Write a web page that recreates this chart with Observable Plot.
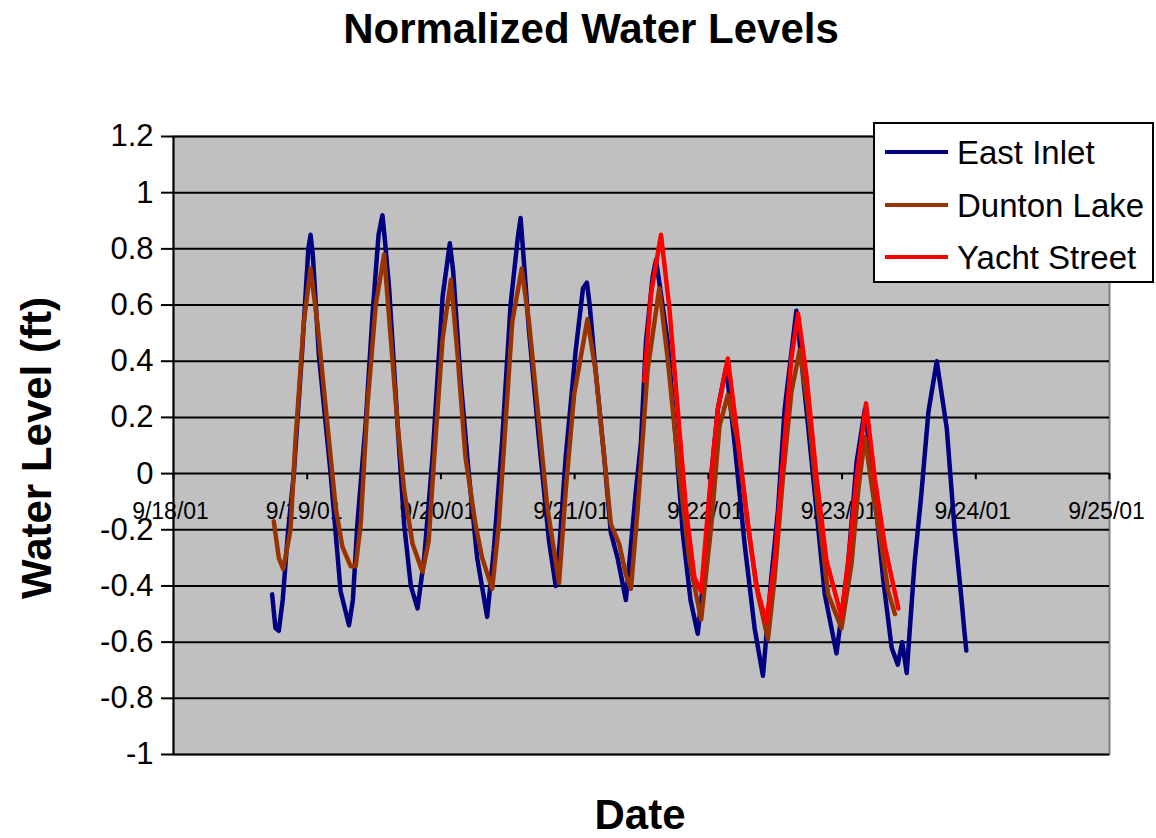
<!DOCTYPE html>
<html><head><meta charset="utf-8">
<script src="https://cdn.jsdelivr.net/npm/d3@7"></script>
<script src="https://cdn.jsdelivr.net/npm/@observablehq/plot@0.6"></script>
<style>
body{margin:0;background:#fff;font-family:"Liberation Sans",Arial,sans-serif;}
#wrap{position:relative;width:1156px;height:838px;overflow:hidden;}
#chart{position:absolute;left:0;top:0;}
.lbl{position:absolute;font-weight:bold;font-size:42px;line-height:42px;white-space:nowrap;color:#000;}
#title{left:591px;top:8px;transform:translateX(-50%);}
#xlab{left:640px;top:794px;transform:translateX(-50%);}
#ylab{left:37px;top:448px;transform:translate(-50%,-50%) rotate(-90deg);}
#legend{position:absolute;left:873px;top:122px;width:277px;height:157px;background:#fff;border:2px solid #000;}
.key{position:absolute;left:10px;width:63px;height:4px;}
.ktxt{position:absolute;left:82px;font-size:33px;line-height:33px;white-space:nowrap;color:#000;}
</style></head>
<body>
<div id="wrap">
<div id="chart"></div>
<div class="lbl" id="title"></div>
<div class="lbl" id="xlab"></div>
<div class="lbl" id="ylab"></div>
<div id="legend"></div>
</div>
<script>
// Hours after 9/18/01 00:00, water level (ft)
const eastInlet = [[17.7,-0.43],[18.3,-0.55],[18.9,-0.56],[19.6,-0.45],[20.5,-0.22],[21.6,0.0],[23.1,0.44],[24.2,0.80],[24.6,0.85],[25.0,0.78],[26.1,0.42],[28.2,0.0],[30.0,-0.42],[31.5,-0.54],[32.2,-0.45],[33.0,-0.18],[34.5,0.18],[35.7,0.56],[36.8,0.85],[37.5,0.92],[38.0,0.82],[38.7,0.66],[40.2,0.18],[41.4,-0.18],[42.6,-0.40],[43.8,-0.48],[45.0,-0.30],[46.5,0.06],[48.3,0.63],[49.6,0.82],[50.2,0.72],[51.5,0.34],[53.0,0.0],[54.5,-0.30],[56.3,-0.51],[57.5,-0.27],[59.0,0.12],[60.5,0.60],[61.8,0.84],[62.3,0.91],[62.8,0.78],[63.8,0.51],[65.6,0.12],[67.4,-0.24],[68.6,-0.40],[69.3,-0.25],[70.4,0.06],[72.2,0.44],[73.5,0.66],[74.2,0.68],[74.7,0.60],[75.5,0.42],[77.3,0.06],[78.5,-0.21],[79.7,-0.30],[81.2,-0.45],[83.0,-0.06],[83.9,0.11],[84.8,0.47],[86.0,0.70],[86.6,0.76],[87.2,0.68],[88.7,0.47],[90.2,0.11],[91.4,-0.21],[92.8,-0.45],[94.1,-0.57],[95.0,-0.40],[96.5,-0.01],[97.7,0.23],[99.2,0.38],[100.7,0.11],[102.5,-0.25],[104.3,-0.55],[105.8,-0.72],[107.3,-0.37],[108.5,-0.13],[109.7,0.23],[111.8,0.58],[113.6,0.23],[115.4,-0.13],[116.9,-0.43],[119.0,-0.64],[121.1,-0.32],[122.6,0.04],[124.1,0.23],[125.9,-0.08],[127.4,-0.38],[128.9,-0.62],[130.0,-0.68],[130.8,-0.60],[131.6,-0.71],[133.0,-0.32],[134.2,-0.08],[135.5,0.22],[137.0,0.40],[138.8,0.16],[140.2,-0.20],[141.4,-0.44],[141.9,-0.55],[142.3,-0.63]];
const duntonLake = [[18.0,-0.17],[18.9,-0.30],[19.7,-0.34],[21.0,-0.20],[21.9,0.12],[23.4,0.54],[24.6,0.73],[25.8,0.54],[27.6,0.18],[29.1,-0.12],[30.3,-0.26],[31.8,-0.33],[32.7,-0.33],[33.6,-0.18],[34.8,0.24],[36.3,0.60],[37.8,0.78],[39.0,0.48],[40.2,0.18],[41.4,-0.06],[42.9,-0.25],[44.7,-0.35],[45.8,-0.24],[46.8,0.06],[48.3,0.48],[49.8,0.69],[51.0,0.42],[52.4,0.06],[54.2,-0.18],[55.4,-0.30],[57.2,-0.41],[58.4,-0.18],[59.6,0.18],[60.8,0.54],[62.5,0.73],[63.8,0.54],[65.6,0.18],[67.1,-0.12],[69.2,-0.39],[70.4,-0.06],[71.9,0.28],[74.3,0.55],[75.8,0.36],[77.3,0.06],[78.5,-0.18],[80.0,-0.25],[81.2,-0.36],[82.1,-0.41],[83.3,-0.13],[85.1,0.37],[87.2,0.66],[88.7,0.41],[90.5,0.05],[92.6,-0.31],[94.7,-0.52],[96.5,-0.19],[98.0,0.17],[99.5,0.28],[101.3,0.11],[103.1,-0.19],[104.9,-0.43],[106.7,-0.59],[107.9,-0.37],[109.4,-0.01],[110.9,0.29],[112.4,0.44],[113.9,0.23],[115.7,-0.13],[117.5,-0.43],[119.9,-0.55],[121.7,-0.32],[122.9,-0.06],[124.1,0.13],[125.6,-0.08],[127.1,-0.26],[128.3,-0.42],[129.5,-0.50]];
const yachtStreet = [[84.5,0.33],[85.7,0.64],[87.5,0.85],[89.0,0.59],[90.5,0.23],[92.0,-0.13],[93.5,-0.37],[94.7,-0.42],[96.2,-0.07],[97.7,0.23],[99.5,0.41],[101.0,0.17],[102.8,-0.13],[104.6,-0.40],[106.4,-0.53],[107.9,-0.31],[109.4,0.05],[110.9,0.41],[112.1,0.57],[113.6,0.35],[115.4,-0.01],[117.2,-0.31],[119.9,-0.51],[121.4,-0.26],[122.6,-0.02],[124.3,0.25],[125.9,-0.02],[127.7,-0.26],[130.1,-0.48]];

const seriesNames = ["East Inlet", "Dunton Lake", "Yacht Street"];
const seriesColors = ["#000080", "#993300", "#ff0000"];
const yTicks = [-1, -0.8, -0.6, -0.4, -0.2, 0, 0.2, 0.4, 0.6, 0.8, 1, 1.2];
const yTickLabels = ["-1", "-0.8", "-0.6", "-0.4", "-0.2", "0", "0.2", "0.4", "0.6", "0.8", "1", "1.2"];
const xTickDays = [18, 19, 20, 21, 22, 23, 24, 25];
const xTickLabels = ["9/18/01", "9/19/01", "9/20/01", "9/21/01", "9/22/01", "9/23/01", "9/24/01", "9/25/01"];
const titleText = "Normalized Water Levels";
const xTitle = "Date";
const yTitle = "Water Level (ft)";

const base = Date.UTC(2001, 8, 18);
const toDate = h => new Date(base + h * 3600000);
const dayDate = d => new Date(Date.UTC(2001, 8, d));
const rows = (arr, name) => arr.map(([h, v]) => ({t: toDate(h), v, name}));
const all = [rows(eastInlet, seriesNames[0]), rows(duntonLake, seriesNames[1]), rows(yachtStreet, seriesNames[2])];
const xTicks = xTickDays.map(dayDate);

const chart = Plot.plot({
  width: 1156, height: 838,
  marginLeft: 173, marginRight: 47, marginTop: 136, marginBottom: 84,
  style: {background: "transparent", fontFamily: "'Liberation Sans', Arial, sans-serif", color: "#000"},
  x: {type: "utc", domain: [xTicks[0], xTicks[xTicks.length - 1]], axis: null},
  y: {domain: [-1, 1.2], axis: null},
  marks: [
    Plot.frame({fill: "#c0c0c0", stroke: "#808080", strokeWidth: 2}),
    Plot.ruleY(yTicks, {stroke: "#000", strokeWidth: 2}),
    Plot.ruleX([xTicks[0]], {stroke: "#000", strokeWidth: 2}),
    Plot.axisY({ticks: yTicks, label: null, tickFormat: d => yTickLabels[yTicks.indexOf(d)], tickSize: 12, tickPadding: 8, fontSize: 31, stroke: "#000", strokeWidth: 2}),
    Plot.ruleX(xTicks, {x: d => d, y1: 0, y2: -0.022, stroke: "#000", strokeWidth: 2}),
    Plot.text(xTicks, {x: d => d, y: 0, text: (d, i) => xTickLabels[i], dy: 38, dx: -3, fontSize: 23, fill: "#000"}),
    ...all.map((r, i) => Plot.line(r, {x: "t", y: "v", stroke: seriesColors[i], strokeWidth: 4.5, strokeLinejoin: "round"}))
  ]
});
document.getElementById("chart").appendChild(chart);
document.getElementById("title").textContent = titleText;
document.getElementById("xlab").textContent = xTitle;
document.getElementById("ylab").textContent = yTitle;
const leg = document.getElementById("legend");
const keyY = [28, 81, 133];
seriesNames.forEach((n, i) => {
  const k = document.createElement("div");
  k.className = "key"; k.style.top = (keyY[i] - 2) + "px"; k.style.background = seriesColors[i];
  leg.appendChild(k);
  const t = document.createElement("div");
  t.className = "ktxt"; t.style.top = (keyY[i] - 16) + "px"; t.textContent = n;
  leg.appendChild(t);
});
</script>
</body></html>
